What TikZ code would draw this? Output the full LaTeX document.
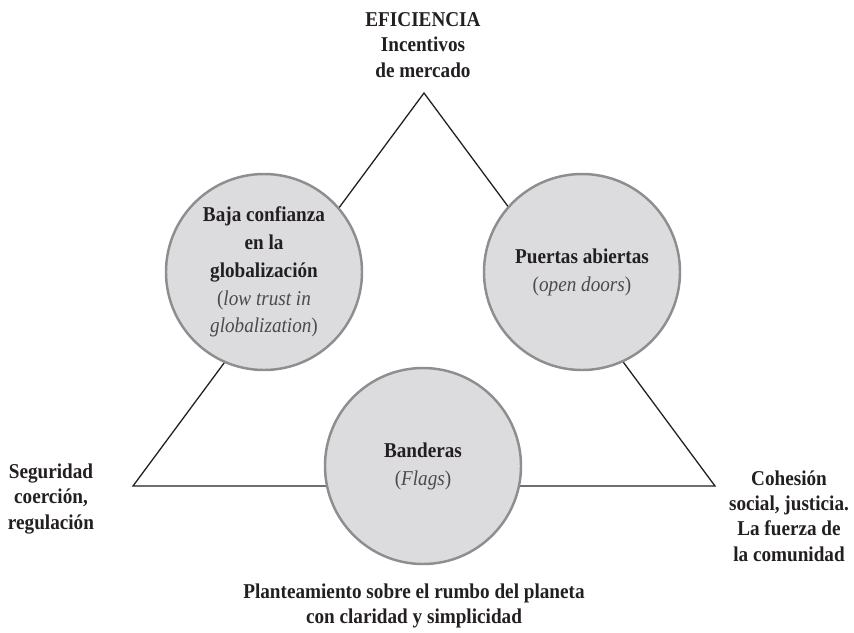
\documentclass[tikz,border=0pt]{standalone}
\usepackage{fontspec}
\setmainfont[FakeStretch=0.91]{Liberation Serif}
\definecolor{ringgray}{HTML}{8E8E90}
\definecolor{fillgray}{HTML}{DCDCDE}
\definecolor{inkdark}{HTML}{231F20}
\definecolor{inkgray}{HTML}{4A4A4C}
\newcommand{\eng}[1]{{\mdseries\color{inkgray}#1}}
\tikzset{
	bubble/.style={circle,draw=ringgray,line width=2.1pt,fill=fillgray,inner sep=0pt,minimum size=5.88cm,align=center,text=inkdark,font=\fontsize{18}{23.8}\selectfont\bfseries},
	corner/.style={align=center,inner sep=0pt,text=inkdark,font=\fontsize{18}{21.7}\selectfont\bfseries}
}
\begin{document}
\begin{tikzpicture}[x=0.03cm,y=-0.03cm]
		\useasboundingbox (0,0) rectangle (854,632);
		% triangle
		\coordinate (top) at (424,93);
		\coordinate (left) at (133,486);
		\coordinate (right) at (715,486);
		\draw[inkdark,line width=1.1pt,line join=miter](top)--(left)--(right)--cycle;
		% circles
		\node[bubble](baja) at (264,272){Baja confianza\\en la\\globalización\\\eng{(\textit{low trust in}}\\\eng{\textit{globalization})}};
		\node[bubble](puertas) at (582,272){Puertas abiertas\\\eng{(\textit{open doors})}};
		\node[bubble](banderas) at (423,466){Banderas\\\eng{(\textit{Flags})}};
		% labels
		\node[corner](eficiencia) at (423,45){EFICIENCIA\\Incentivos\\de mercado};
		\node[corner](seguridad) at (51,499){Seguridad\\coerción,\\regulación};
		\node[corner](cohesion) at (789,516){Cohesión\\social, justicia.\\La fuerza de\\la comunidad};
		\node[corner](rumbo) at (414,606){Planteamiento sobre el rumbo del planeta\\con claridad y simplicidad};
	\end{tikzpicture}
\end{document}
